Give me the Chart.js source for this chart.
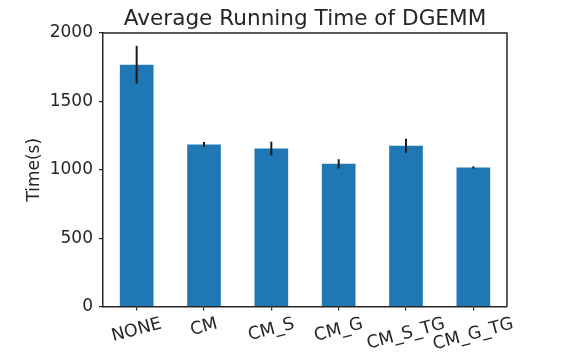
<!DOCTYPE html>
<html>
<head>
<meta charset="utf-8">
<script src="https://cdn.jsdelivr.net/npm/chart.js@4/dist/chart.umd.min.js"></script>
<style>
  html, body { margin: 0; padding: 0; background: #fff; }
  #wrap { width: 564px; height: 354px; position: relative; }
</style>
</head>
<body>
<div id="wrap"><canvas id="c"></canvas></div>
<script>
// Average DGEMM running time per configuration, with standard deviation
const categories = ['NONE', 'CM', 'CM_S', 'CM_G', 'CM_S_TG', 'CM_G_TG'];
const meanTimes  = [1768, 1185, 1155, 1043, 1175, 1017];
const stdTimes   = [138, 18, 50, 34, 51, 8];
const yTicks     = [0, 500, 1000, 1500, 2000];

const FONT = 'DejaVu Sans';
const INK = '#262626';

// Frame, error bars, rotated category labels and the title
const decorations = {
  id: 'decorations',
  afterDatasetsDraw(chart) {
    const { ctx, chartArea: a, scales: { x, y } } = chart;
    ctx.save();
    // error bars
    ctx.strokeStyle = '#1a1a1a';
    ctx.lineWidth = 2;
    meanTimes.forEach((m, i) => {
      const px = x.getPixelForValue(i);
      ctx.beginPath();
      ctx.moveTo(px, y.getPixelForValue(m - stdTimes[i]));
      ctx.lineTo(px, y.getPixelForValue(m + stdTimes[i]));
      ctx.stroke();
    });
    // top and right spines
    ctx.strokeStyle = INK;
    ctx.lineWidth = 1.5;
    ctx.beginPath();
    ctx.moveTo(a.left, a.top);
    ctx.lineTo(a.right, a.top);
    ctx.lineTo(a.right, a.bottom);
    ctx.stroke();
    ctx.restore();
  },
  afterDraw(chart) {
    const { ctx, chartArea: a, scales: { x } } = chart;
    ctx.save();
    ctx.fillStyle = INK;
    // category labels, rotated 15 degrees about their centre
    ctx.font = '17.5px "' + FONT + '"';
    ctx.textAlign = 'center';
    ctx.textBaseline = 'middle';
    const rot = 15 * Math.PI / 180;
    const lh = 17;
    categories.forEach((c, i) => {
      const px = x.getPixelForValue(i);
      const w = ctx.measureText(c).width;
      const h = w * Math.sin(rot) + lh * Math.cos(rot);
      const top = a.bottom + 9;
      ctx.save();
      ctx.translate(px, top + h / 2);
      ctx.rotate(-rot);
      ctx.fillText(c, 0, 0);
      ctx.restore();
    });
    // title
    ctx.font = '21.6px "' + FONT + '"';
    ctx.textBaseline = 'alphabetic';
    ctx.fillText('Average Running Time of DGEMM', (a.left + a.right) / 2, 25);
    ctx.restore();
  }
};

new Chart(document.getElementById('c'), {
  type: 'bar',
  data: {
    labels: categories,
    datasets: [{
      data: meanTimes,
      backgroundColor: '#1f77b4',
      borderWidth: 0,
      categoryPercentage: 1.0,
      barPercentage: 0.5
    }]
  },
  options: {
    responsive: true,
    maintainAspectRatio: false,
    animation: false,
    devicePixelRatio: 1,
    layout: { padding: { top: 33, right: 57, left: 0, bottom: 0 } },
    plugins: { legend: { display: false }, tooltip: { enabled: false }, title: { display: false } },
    scales: {
      x: {
        offset: true,
        grid: { display: true, drawOnChartArea: false, drawTicks: true, tickLength: 4, offset: false, color: INK, lineWidth: 1.2 },
        border: { display: true, color: INK, width: 1.5 },
        ticks: { display: false },
        afterFit(s) { s.height = 47.5; }
      },
      y: {
        min: 0,
        max: 2000,
        afterBuildTicks(s) { s.ticks = yTicks.map(v => ({ value: v })); },
        grid: { display: true, drawOnChartArea: false, drawTicks: true, tickLength: 4, color: INK, lineWidth: 1.2 },
        border: { display: true, color: INK, width: 1.5 },
        ticks: { color: INK, font: { family: FONT, size: 17 }, padding: 6, callback: v => String(v) },
        title: { display: true, text: 'Time(s)', color: INK, font: { family: FONT, size: 17 }, padding: { top: 24, bottom: 0 } },
        afterFit(s) { s.width = 103; }
      }
    }
  },
  plugins: [decorations]
});
</script>
</body>
</html>
